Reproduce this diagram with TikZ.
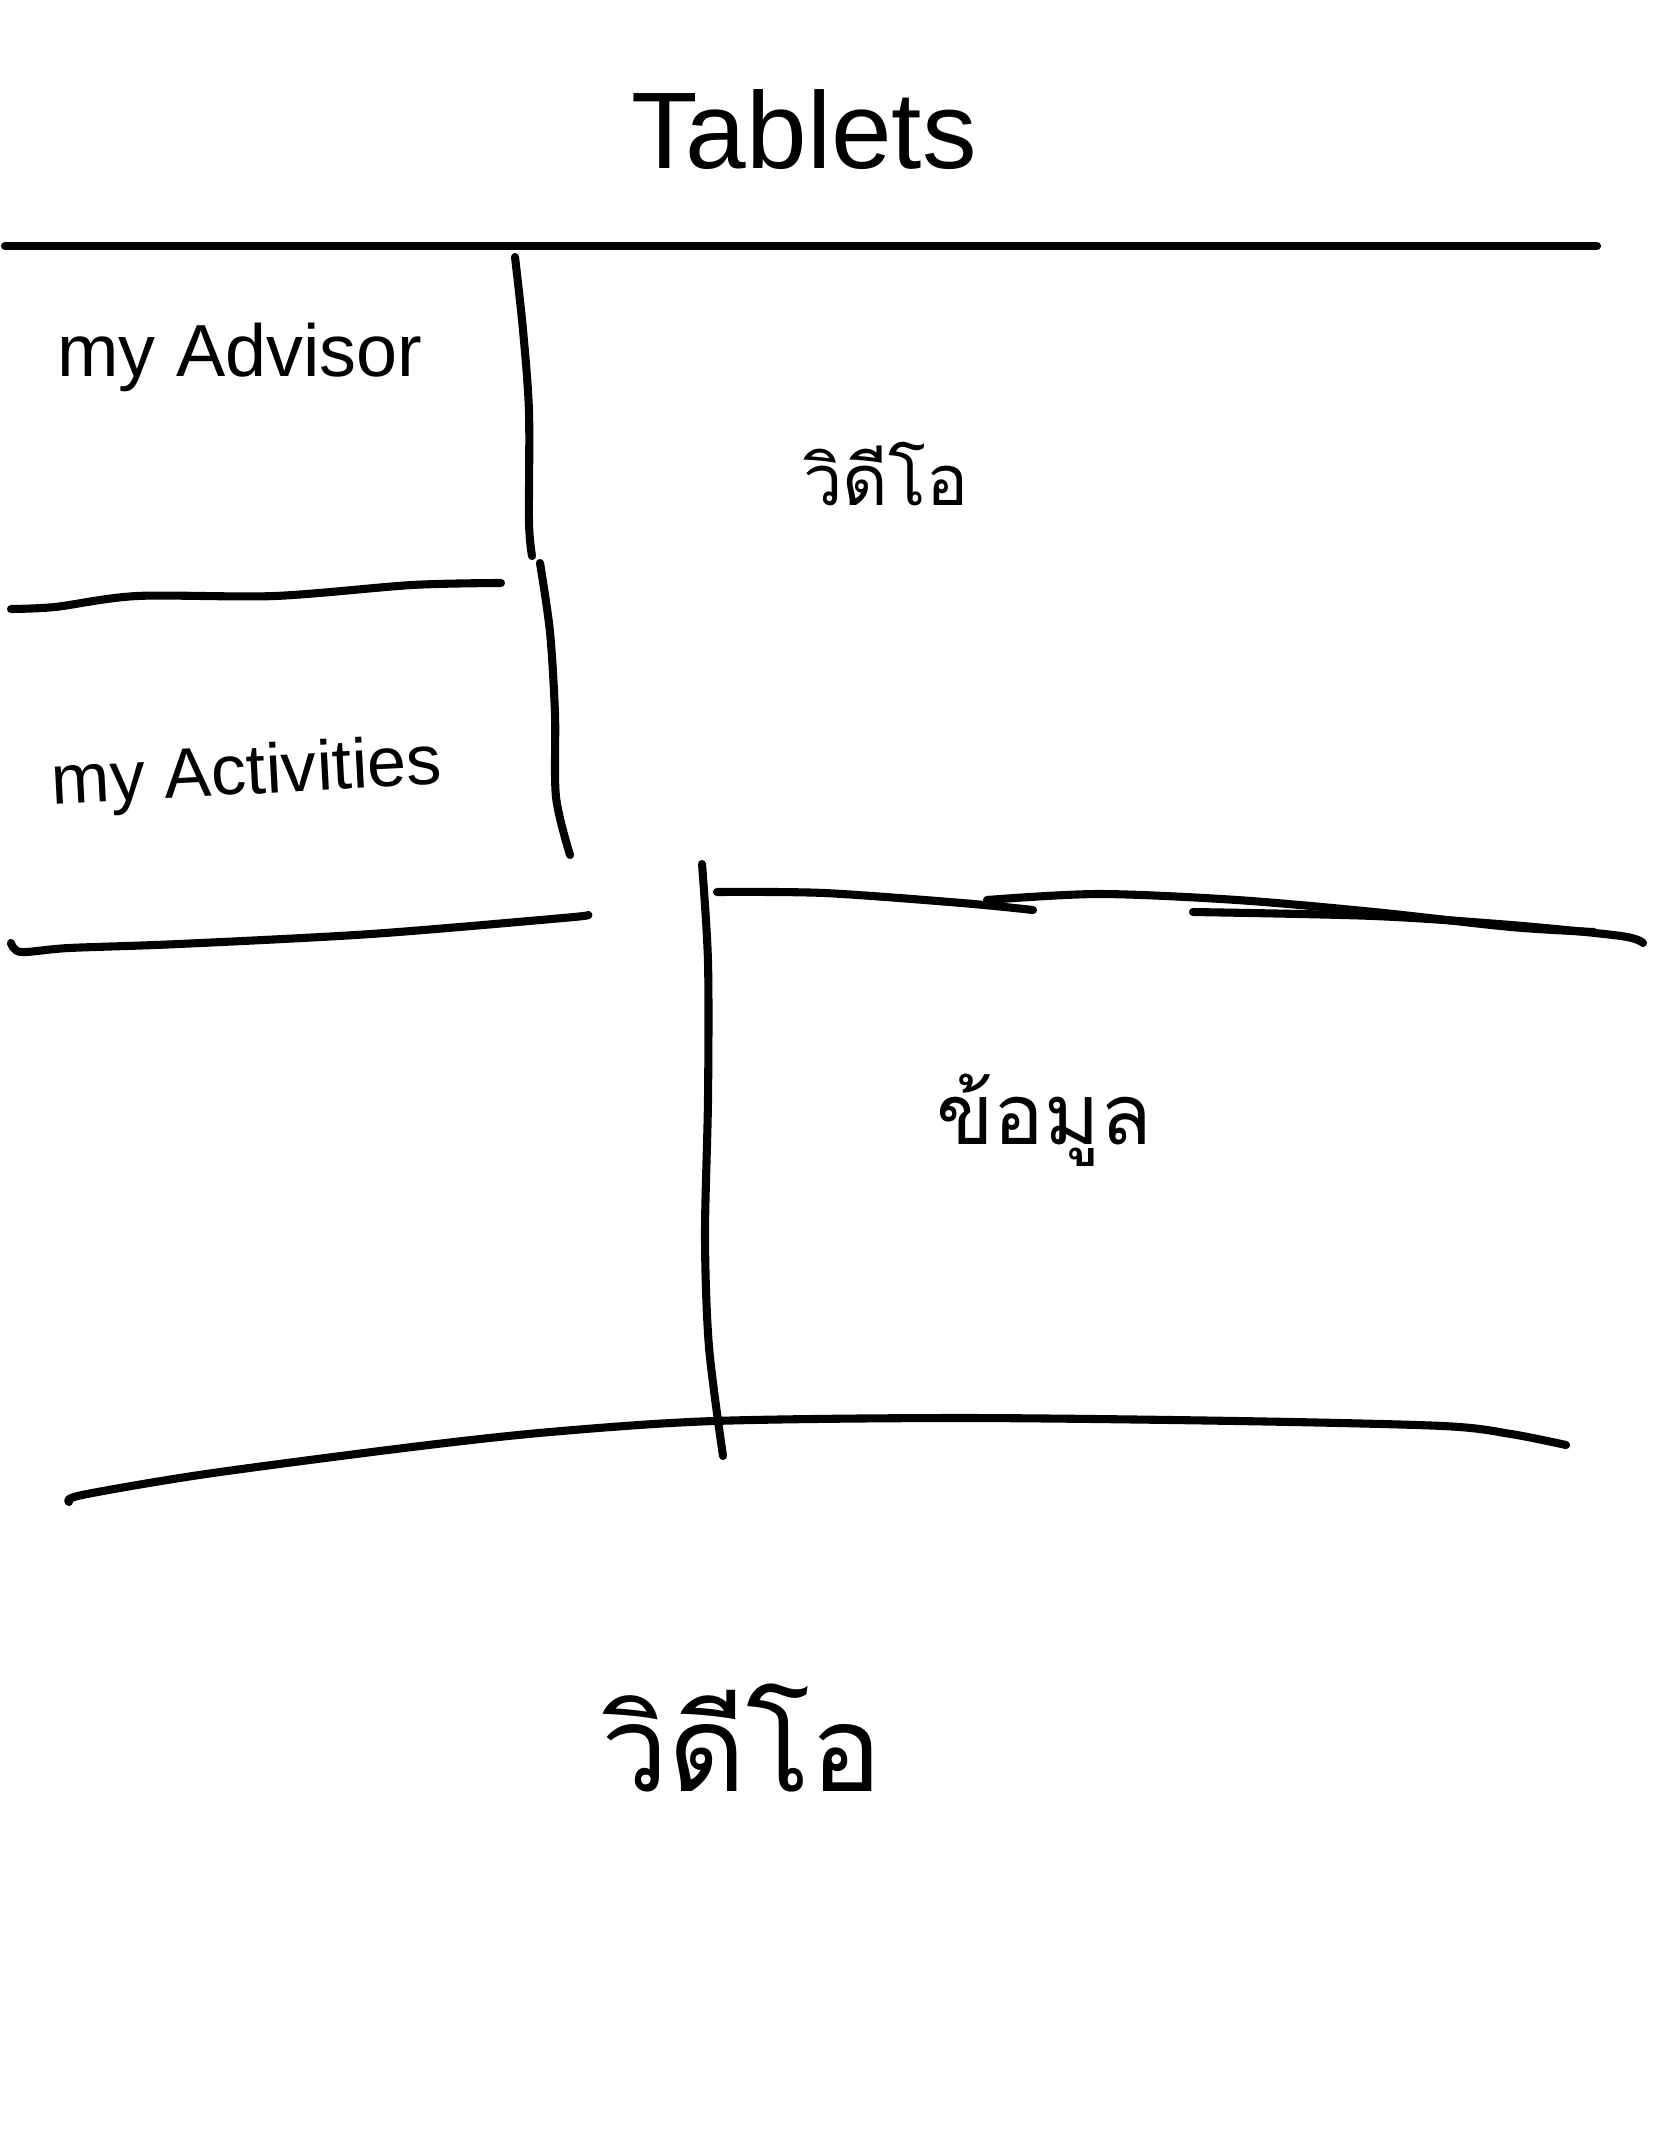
\documentclass[tikz,border=0pt]{standalone}
\usepackage{fontspec}
\setmainfont{Liberation Sans}
\newfontfamily\thaifont[Script=Thai]{Loma}
\begin{document}
\begin{tikzpicture}[sketch/.style={line width=2.3pt,line cap=round,line join=round}]
  \useasboundingbox (0,0) rectangle (16.68,-21.54);

  \node (title) at (8.04,-1.30) {\fontsize{31}{33}\selectfont Tablets};
  \node (advisor) at (2.40,-3.57) {\fontsize{21}{23}\selectfont my Advisor};
  \node[rotate=3] (activities) at (2.47,-7.76) {\fontsize{20}{22}\selectfont my Activities};
  \node (videoTop) at (8.86,-4.74) {\thaifont\fontsize{20}{22}\selectfont วิดีโอ};
  \node (data) at (10.44,-11.20) {\thaifont\fontsize{24}{26}\selectfont ข้อมูล};
  \node (videoBottom) at (7.42,-17.38) {\thaifont\fontsize{34}{36}\selectfont วิดีโอ};

  % header
  \draw[sketch] (0.05,-2.46) -- (15.97,-2.46);

  % left menu
  \draw[sketch] plot[smooth] coordinates {(5.15,-2.57) (5.23,-3.30) (5.29,-4.12) (5.29,-5.22) (5.32,-5.56)};
  \draw[sketch] plot[smooth] coordinates {(5.40,-5.63) (5.50,-6.32) (5.55,-7.14) (5.56,-7.97) (5.70,-8.55)};
  \draw[sketch] plot[smooth] coordinates {(0.11,-6.09) (0.55,-6.07) (1.37,-5.96) (2.75,-5.96) (4.12,-5.85) (5.01,-5.83)};
  \draw[sketch] plot[smooth] coordinates {(0.11,-9.43) (0.21,-9.52) (0.69,-9.48) (1.79,-9.44) (3.71,-9.34) (5.63,-9.18) (5.88,-9.15)};

  % data box
  \draw[sketch] plot[smooth] coordinates {(7.02,-8.64) (7.08,-9.62) (7.08,-10.99) (7.05,-12.37) (7.09,-13.47) (7.23,-14.56)};
  \draw[sketch] plot[smooth] coordinates {(7.17,-8.92) (8.24,-8.93) (9.62,-9.03) (10.33,-9.10)};
  \draw[sketch] plot[smooth] coordinates {(9.87,-9.00) (10.99,-8.94) (12.37,-9.00) (13.74,-9.12) (15.11,-9.27) (15.94,-9.32)};
  \draw[sketch] plot[smooth] coordinates {(11.93,-9.12) (13.74,-9.16) (15.11,-9.25) (16.21,-9.36) (16.43,-9.43)};

  % bottom
  \draw[sketch] plot[smooth] coordinates {(0.69,-15.02) (0.82,-14.95) (2.06,-14.74) (4.12,-14.47) (5.50,-14.32) (7.14,-14.21) (9.62,-14.18) (12.37,-14.21) (14.43,-14.26) (15.11,-14.34) (15.66,-14.45)};
\end{tikzpicture}
\end{document}
